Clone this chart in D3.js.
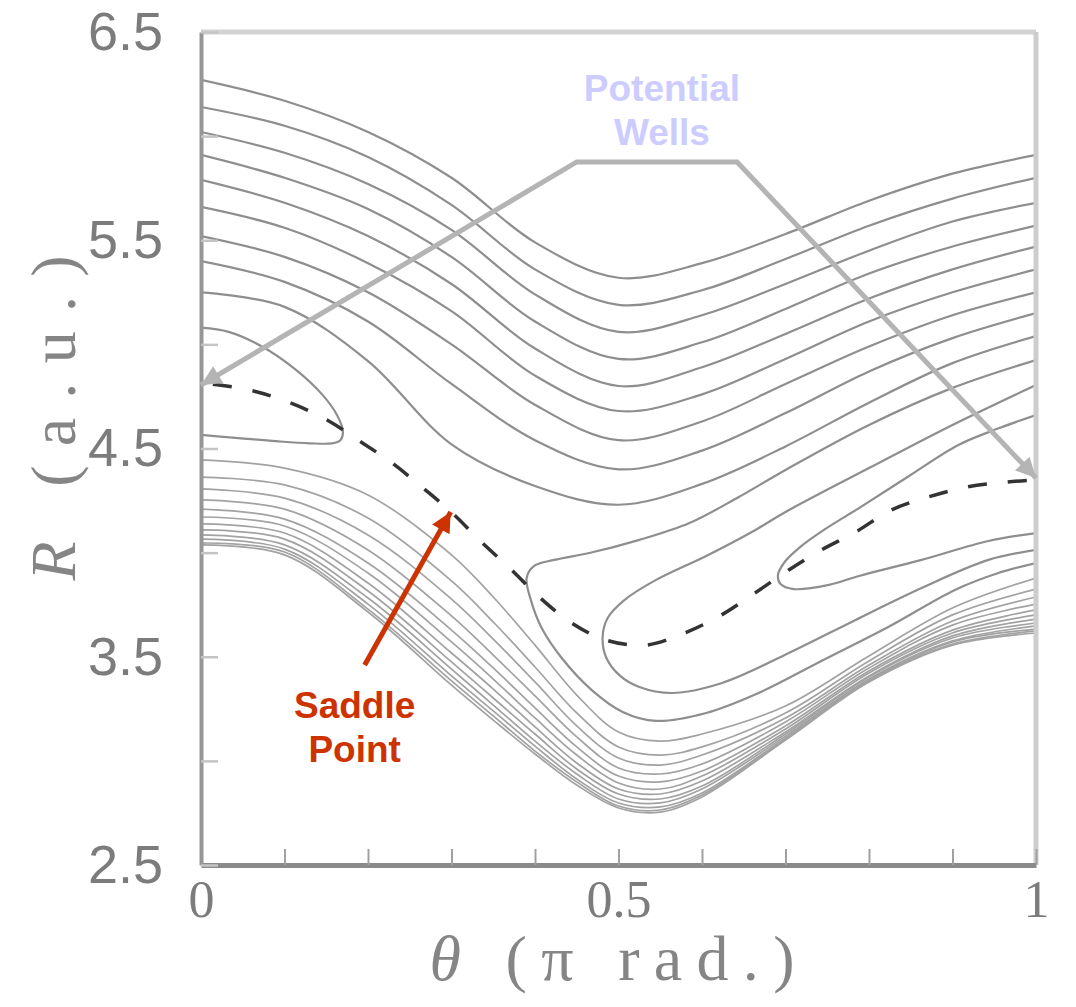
<!DOCTYPE html>
<html>
<head>
<meta charset="utf-8">
<script src="https://cdn.jsdelivr.net/npm/d3@7"></script>
<style>
  html, body { margin: 0; padding: 0; background: #ffffff; }
  svg { display: block; }
</style>
</head>
<body>
<svg id="chart" width="1076" height="1007"></svg>
<script>
// ---- Potential energy surface V(theta, R): contour lines ----

// Contours that run across the whole theta range above both wells (R at each theta)
const thetaUpper = [0, 0.1, 0.2, 0.3, 0.4, 0.5, 0.6, 0.7, 0.8, 0.9, 1];
const upperContours = [
  [6.27, 6.17, 6.02, 5.80, 5.49, 5.32, 5.39, 5.53, 5.69, 5.82, 5.91],
  [6.14, 6.05, 5.90, 5.67, 5.36, 5.19, 5.26, 5.41, 5.57, 5.70, 5.80],
  [6.02, 5.92, 5.77, 5.55, 5.24, 5.06, 5.14, 5.29, 5.45, 5.59, 5.68],
  [5.91, 5.80, 5.65, 5.42, 5.11, 4.93, 5.01, 5.17, 5.34, 5.47, 5.57],
  [5.79, 5.68, 5.52, 5.29, 4.98, 4.80, 4.89, 5.05, 5.22, 5.36, 5.47],
  [5.66, 5.56, 5.39, 5.16, 4.85, 4.68, 4.76, 4.93, 5.11, 5.25, 5.36],
  [5.52, 5.42, 5.25, 5.00, 4.71, 4.54, 4.63, 4.81, 4.99, 5.14, 5.25],
  [5.40, 5.30, 5.11, 4.81, 4.54, 4.40, 4.49, 4.67, 4.87, 5.03, 5.15],
  [5.25, 5.18, 4.92, 4.52, 4.32, 4.23, 4.33, 4.51, 4.72, 4.91, 5.04]
];

// Contours of the repulsive wall below the wells (R at each theta)
const thetaLower = [0, 0.1, 0.2, 0.3, 0.35, 0.4, 0.45, 0.5, 0.55, 0.6, 0.7, 0.8, 0.9, 1];
const lowerContours = [
  [4.445, 4.406, 4.277, 3.989, 3.787, 3.556, 3.316, 3.139, 3.095, 3.129, 3.264, 3.504, 3.734, 3.878],
  [4.363, 4.325, 4.166, 3.864, 3.667, 3.451, 3.230, 3.067, 3.028, 3.067, 3.230, 3.480, 3.701, 3.825],
  [4.306, 4.262, 4.085, 3.777, 3.585, 3.379, 3.168, 3.014, 2.980, 3.028, 3.206, 3.460, 3.672, 3.787],
  [4.253, 4.209, 4.013, 3.696, 3.508, 3.312, 3.115, 2.966, 2.937, 2.985, 3.187, 3.446, 3.652, 3.753],
  [4.209, 4.161, 3.950, 3.628, 3.446, 3.254, 3.067, 2.927, 2.899, 2.951, 3.168, 3.432, 3.628, 3.725],
  [4.171, 4.128, 3.902, 3.571, 3.393, 3.206, 3.028, 2.894, 2.865, 2.927, 3.153, 3.422, 3.614, 3.701],
  [4.138, 4.094, 3.854, 3.518, 3.345, 3.163, 2.990, 2.865, 2.841, 2.903, 3.139, 3.408, 3.600, 3.681],
  [4.109, 4.065, 3.816, 3.475, 3.302, 3.129, 2.961, 2.841, 2.817, 2.879, 3.129, 3.403, 3.590, 3.662],
  [4.085, 4.037, 3.782, 3.441, 3.268, 3.095, 2.937, 2.817, 2.798, 2.865, 3.119, 3.393, 3.576, 3.648],
  [4.065, 4.017, 3.753, 3.408, 3.240, 3.071, 2.913, 2.798, 2.779, 2.846, 3.110, 3.388, 3.571, 3.633],
  [4.046, 4.003, 3.729, 3.384, 3.216, 3.047, 2.899, 2.783, 2.764, 2.836, 3.105, 3.384, 3.561, 3.624],
  [4.037, 3.989, 3.715, 3.364, 3.196, 3.033, 2.884, 2.774, 2.754, 2.827, 3.100, 3.379, 3.556, 3.614]
];

// Closed contour around the well at theta = 0, as [theta, R]
const leftWellContour = [
  [0, 5.08], [0.033, 5.06], [0.073, 4.99], [0.113, 4.88], [0.145, 4.76], [0.163, 4.66],
  [0.170, 4.58], [0.167, 4.54], [0.157, 4.525], [0.13, 4.525], [0.09, 4.535], [0.045, 4.55], [0, 4.565]
];

// Closed contours around the well at theta = pi, as [theta, R]
const rightWellThetaA = [1, 0.900, 0.800, 0.700, 0.644, 0.585, 0.525, 0.465, 0.423, 0.399, 0.390, 0.395, 0.408, 0.432, 0.468, 0.505, 0.545, 0.605, 0.665, 0.743, 0.823, 0.903, 0.955, 1];
const rightWellRA     = [4.925, 4.791, 4.613, 4.397, 4.267, 4.142, 4.061, 3.998, 3.965, 3.936, 3.878, 3.773, 3.638, 3.494, 3.340, 3.235, 3.192, 3.230, 3.321, 3.480, 3.643, 3.821, 3.902, 3.950];
const rightWellThetaB = [1, 0.900, 0.800, 0.700, 0.664, 0.605, 0.545, 0.507, 0.487, 0.481, 0.485, 0.501, 0.525, 0.564, 0.624, 0.704, 0.784, 0.863, 0.943, 1];
const rightWellRB     = [4.805, 4.613, 4.406, 4.195, 4.109, 3.984, 3.869, 3.772, 3.686, 3.595, 3.499, 3.412, 3.355, 3.326, 3.374, 3.518, 3.677, 3.830, 3.965, 4.013];
const rightWellThetaC = [1, 0.956, 0.907, 0.848, 0.788, 0.746, 0.716, 0.699, 0.691, 0.694, 0.710, 0.752, 0.788, 0.863, 0.943, 1];
const rightWellRC     = [4.661, 4.598, 4.517, 4.368, 4.214, 4.109, 4.022, 3.955, 3.893, 3.849, 3.825, 3.845, 3.888, 3.965, 4.056, 4.094];

// Minimum energy path between the wells, as [theta, R]
const reactionPath = [
  [0, 4.815], [0.058, 4.781], [0.107, 4.719], [0.151, 4.637], [0.188, 4.541], [0.229, 4.430],
  [0.266, 4.310], [0.301, 4.190], [0.337, 4.046], [0.372, 3.917], [0.405, 3.787], [0.444, 3.662],
  [0.485, 3.580], [0.533, 3.556], [0.579, 3.614], [0.623, 3.700], [0.660, 3.797], [0.704, 3.917],
  [0.743, 4.013], [0.784, 4.099], [0.827, 4.205], [0.871, 4.267], [0.917, 4.315], [0.965, 4.339], [1, 4.349]
];

// Axis ticks and labels
const xTicks = [0, 0.1, 0.2, 0.3, 0.4, 0.5, 0.6, 0.7, 0.8, 0.9, 1];
const xTickLabels = [0, 0.5, 1];
const yTicks = [2.5, 3, 3.5, 4, 4.5, 5, 5.5, 6, 6.5];
const yTickLabels = [2.5, 3.5, 4.5, 5.5, 6.5];

// Annotation anchors, as [theta, R]
const wellPointer = [[0, 4.805], [0.450, 5.876], [0.642, 5.876], [1, 4.358]];
const saddleArrow = [[0.196, 3.460], [0.299, 4.195]];
const wellsLabelAt = [0.552, 6.17, 5.955];
const saddleLabelAt = [0.184, 3.206, 2.995];

// ---- Drawing ----
const x = d3.scaleLinear().domain([0, 1]).range([201, 1036]);
const y = d3.scaleLinear().domain([2.5, 6.5]).range([865, 32]);

const svg = d3.select("#chart");
const defs = svg.append("defs");

defs.append("clipPath").attr("id", "plot-clip")
  .append("rect")
  .attr("x", x(0)).attr("y", y(6.5))
  .attr("width", x(1) - x(0)).attr("height", y(2.5) - y(6.5));

function arrowMarker(id, color, w, h) {
  defs.append("marker")
    .attr("id", id)
    .attr("viewBox", "0 0 10 10")
    .attr("refX", 10).attr("refY", 5)
    .attr("markerUnits", "userSpaceOnUse")
    .attr("markerWidth", w).attr("markerHeight", h)
    .attr("orient", "auto-start-reverse")
    .append("path")
    .attr("d", "M0,0 L10,5 L0,10 Z")
    .attr("fill", color);
}
arrowMarker("grey-head", "#b4b4b4", 24, 20);
arrowMarker("red-head", "#cc3300", 22, 20);

const contourLine = d3.line()
  .x(d => x(d[0]))
  .y(d => y(d[1]))
  .curve(d3.curveCatmullRom.alpha(0.5));

const plot = svg.append("g").attr("clip-path", "url(#plot-clip)");

// wall band
plot.selectAll("path.lower")
  .data(lowerContours.map(rs => rs.map((r, i) => [thetaLower[i], r])))
  .join("path")
  .attr("class", "lower")
  .attr("d", contourLine)
  .attr("fill", "none")
  .attr("stroke", "#a2a2a2")
  .attr("stroke-width", 1.7);

// upper contours
plot.selectAll("path.upper")
  .data(upperContours.map(rs => rs.map((r, i) => [thetaUpper[i], r])))
  .join("path")
  .attr("class", "upper")
  .attr("d", contourLine)
  .attr("fill", "none")
  .attr("stroke", "#8e8e8e")
  .attr("stroke-width", 2.2);

// well contours
const wellContours = [
  leftWellContour,
  rightWellThetaA.map((t, i) => [t, rightWellRA[i]]),
  rightWellThetaB.map((t, i) => [t, rightWellRB[i]]),
  rightWellThetaC.map((t, i) => [t, rightWellRC[i]])
];
plot.selectAll("path.well")
  .data(wellContours)
  .join("path")
  .attr("class", "well")
  .attr("d", contourLine)
  .attr("fill", "none")
  .attr("stroke", "#8e8e8e")
  .attr("stroke-width", 2.2);

// minimum energy path
plot.append("path")
  .datum(reactionPath)
  .attr("d", contourLine)
  .attr("fill", "none")
  .attr("stroke", "#333333")
  .attr("stroke-width", 3.5)
  .attr("stroke-dasharray", "19 21")
  .attr("stroke-dashoffset", -12);

// frame: top and right borders
svg.append("line")
  .attr("x1", x(0)).attr("x2", x(1)).attr("y1", y(6.5)).attr("y2", y(6.5))
  .attr("stroke", "#d2d2d2").attr("stroke-width", 5);
svg.append("line")
  .attr("x1", x(1)).attr("x2", x(1)).attr("y1", y(6.5)).attr("y2", y(2.5))
  .attr("stroke", "#cdcdcd").attr("stroke-width", 5);

// x axis
const xAxis = d3.axisBottom(x)
  .tickValues(xTicks)
  .tickSizeInner(-16)
  .tickSizeOuter(0)
  .tickPadding(15)
  .tickFormat(d => xTickLabels.includes(d) ? d3.format("~g")(d) : "");
const gx = svg.append("g").attr("transform", `translate(0,${y(2.5)})`).call(xAxis);
gx.select(".domain").attr("stroke", "#8a8a8a").attr("stroke-width", 5);
gx.selectAll(".tick line").attr("stroke", "#a0a0a0").attr("stroke-width", 2);
gx.selectAll(".tick text")
  .attr("fill", "#7c7c7c")
  .style("font-family", "'Liberation Serif', 'DejaVu Serif', serif")
  .style("font-size", "52px");

// y axis
const yAxis = d3.axisLeft(y)
  .tickValues(yTicks)
  .tickSizeInner(-17)
  .tickSizeOuter(0)
  .tickPadding(38)
  .tickFormat(d => yTickLabels.includes(d) ? d.toFixed(1) : "");
const gy = svg.append("g").attr("transform", `translate(${x(0)},0)`).call(yAxis);
gy.select(".domain").attr("stroke", "#969696").attr("stroke-width", 4);
gy.selectAll(".tick line").attr("stroke", "#c4c4c4").attr("stroke-width", 2.5);
gy.selectAll(".tick text")
  .attr("fill", "#7c7c7c")
  .style("font-family", "'Liberation Sans', Arial, sans-serif")
  .style("font-size", "54px");

// axis titles
const xTitle = svg.append("text")
  .attr("x", 612).attr("y", 980)
  .attr("text-anchor", "middle")
  .attr("textLength", 365)
  .attr("lengthAdjust", "spacing")
  .attr("fill", "#858585")
  .style("font-family", "'Liberation Serif', 'DejaVu Serif', serif")
  .style("font-size", "64px");
xTitle.append("tspan").style("font-style", "italic").text("θ");
xTitle.append("tspan").text(" (π rad.)");

const yTitle = svg.append("text")
  .attr("transform", "translate(75,418) rotate(-90)")
  .attr("text-anchor", "middle")
  .attr("textLength", 325)
  .attr("lengthAdjust", "spacing")
  .attr("fill", "#858585")
  .style("font-family", "'Liberation Serif', 'DejaVu Serif', serif")
  .style("font-size", "64px");
yTitle.append("tspan").style("font-style", "italic").text("R");
yTitle.append("tspan").text(" (a.u.)");

// annotation: potential wells pointer
const straight = d3.line().x(d => x(d[0])).y(d => y(d[1]));
svg.append("path")
  .datum(wellPointer)
  .attr("d", straight)
  .attr("fill", "none")
  .attr("stroke", "#b4b4b4")
  .attr("stroke-width", 5)
  .attr("stroke-linejoin", "miter")
  .attr("marker-start", "url(#grey-head)")
  .attr("marker-end", "url(#grey-head)");

const wellsLabel = svg.append("text")
  .attr("text-anchor", "middle")
  .attr("fill", "#ccccff")
  .style("font-family", "'Liberation Sans', Arial, sans-serif")
  .style("font-weight", "bold")
  .style("font-size", "37px");
wellsLabel.append("tspan").attr("x", x(wellsLabelAt[0])).attr("y", y(wellsLabelAt[1])).text("Potential");
wellsLabel.append("tspan").attr("x", x(wellsLabelAt[0])).attr("y", y(wellsLabelAt[2])).text("Wells");

// annotation: saddle point arrow
svg.append("path")
  .datum(saddleArrow)
  .attr("d", straight)
  .attr("fill", "none")
  .attr("stroke", "#cc3300")
  .attr("stroke-width", 5)
  .attr("marker-end", "url(#red-head)");

const saddleLabel = svg.append("text")
  .attr("text-anchor", "middle")
  .attr("fill", "#cc3300")
  .style("font-family", "'Liberation Sans', Arial, sans-serif")
  .style("font-weight", "bold")
  .style("font-size", "37px");
saddleLabel.append("tspan").attr("x", x(saddleLabelAt[0])).attr("y", y(saddleLabelAt[1])).text("Saddle");
saddleLabel.append("tspan").attr("x", x(saddleLabelAt[0])).attr("y", y(saddleLabelAt[2])).text("Point");
</script>
</body>
</html>
